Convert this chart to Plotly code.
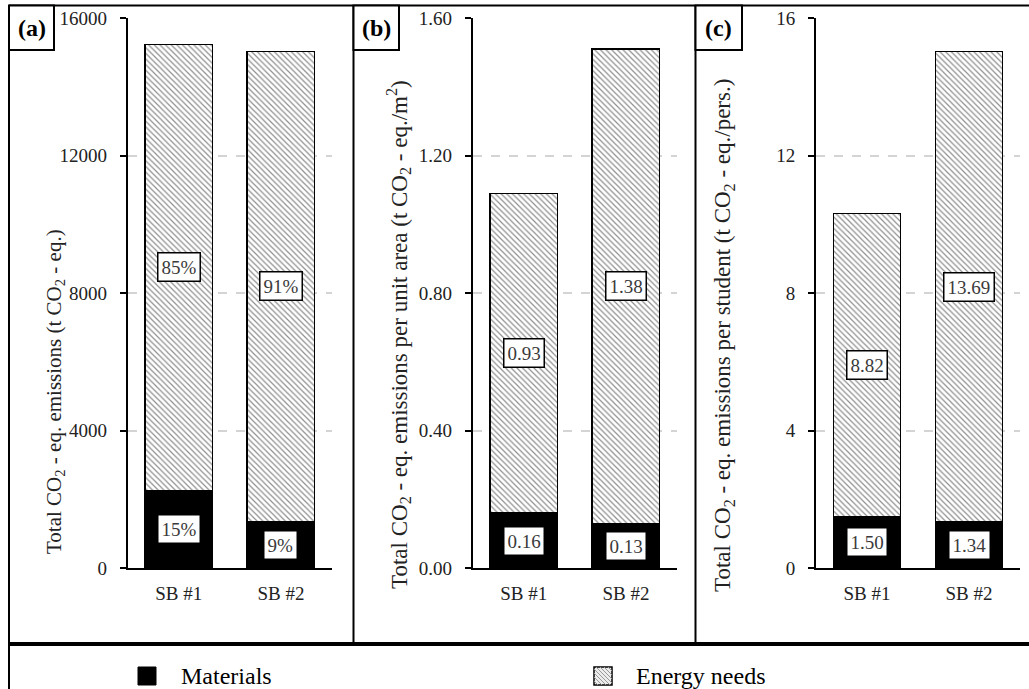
import plotly.graph_objects as go

# ---- data -------------------------------------------------------------
buildings = ["SB #1", "SB #2"]

# (a) total emissions, t CO2-eq.
materials_total = [2260, 1350]
energy_total = [12980, 13690]

# (b) emissions per unit area, t CO2-eq./m2
materials_area = [0.16, 0.13]
energy_area = [0.93, 1.38]

# (c) emissions per student, t CO2-eq./pers.
materials_student = [1.50, 1.34]
energy_student = [8.82, 13.69]

y_titles = [
    "Total CO<sub>2</sub> - eq. emissions (t CO<sub>2</sub> - eq.)",
    "Total CO<sub>2</sub> - eq. emissions per unit area (t CO<sub>2</sub> - eq./m<sup>2</sup>)",
    "Total CO<sub>2</sub> - eq. emissions per student (t CO<sub>2</sub> - eq./pers.)",
]
panel_tags = ["(a)", "(b)", "(c)"]
legend_names = ["Materials", "Energy needs"]
y_ranges = [[0, 16000], [0, 1.6], [0, 16]]
y_dticks = [4000, 0.4, 4]
y_formats = ["d", ".2f", "d"]

# ---- page geometry (pixels) -------------------------------------------
W, H = 1029, 689
FONT = "Liberation Serif"


def px(x):
    return x / W


def py(y):
    return 1 - y / H


x_domains = [(127.7, 332.0), (472.7, 677.0), (816.0, 1020.0)]
y_top, y_bottom = 18.3, 568.0

fig = go.Figure()

hatch = dict(shape="\\", size=4, solidity=0.3, fgcolor="#8f8f8f", bgcolor="white")

# percentage labels for panel (a)
tot_a = [m + e for m, e in zip(materials_total, energy_total)]
labels_a_mat = [f"{round(100 * m / t)}%" for m, t in zip(materials_total, tot_a)]
labels_a_en = [f"{round(100 * e / t)}%" for e, t in zip(energy_total, tot_a)]

panels = [
    (materials_total, energy_total, labels_a_mat, labels_a_en),
    (materials_area, energy_area,
     [f"{v:.2f}" for v in materials_area], [f"{v:.2f}" for v in energy_area]),
    (materials_student, energy_student,
     [f"{v:.2f}" for v in materials_student], [f"{v:.2f}" for v in energy_student]),
]

annotations = []
for i, (mat, en, lab_m, lab_e) in enumerate(panels):
    xa = "x" if i == 0 else f"x{i + 1}"
    ya = "y" if i == 0 else f"y{i + 1}"
    fig.add_trace(go.Bar(
        x=buildings, y=mat, name=legend_names[0], width=0.66,
        marker=dict(color="black", line=dict(color="black", width=1.5)),
        xaxis=xa, yaxis=ya, showlegend=False,
    ))
    fig.add_trace(go.Bar(
        x=buildings, y=en, name=legend_names[1], width=0.66,
        marker=dict(color="white", pattern=hatch, line=dict(color="black", width=1.5)),
        xaxis=xa, yaxis=ya, showlegend=False,
    ))
    # value boxes centred in each segment
    for b, m, e, lm, le in zip(buildings, mat, en, lab_m, lab_e):
        for yc, txt in ((m / 2, lm), (m + e / 2, le)):
            annotations.append(dict(
                x=b, y=yc, xref=xa, yref=ya, text=txt, showarrow=False,
                font=dict(family=FONT, size=19, color="#3a3a3a"),
                bgcolor="white", bordercolor="black", borderwidth=1.5, borderpad=3,
            ))

# axes
layout_axes = {}
for i in range(3):
    xk = "xaxis" if i == 0 else f"xaxis{i + 1}"
    yk = "yaxis" if i == 0 else f"yaxis{i + 1}"
    anchor_x = "y" if i == 0 else f"y{i + 1}"
    anchor_y = "x" if i == 0 else f"x{i + 1}"
    x0, x1 = x_domains[i]
    layout_axes[xk] = dict(
        domain=[px(x0), px(x1)], anchor=anchor_x, range=[-0.5, 1.5],
        showline=True, linecolor="black", linewidth=2, ticks="",
        showgrid=False, zeroline=False, ticklabelstandoff=7, automargin=False,
        tickfont=dict(family=FONT, size=19, color="#222"),
    )
    layout_axes[yk] = dict(
        domain=[py(y_bottom), py(y_top)], anchor=anchor_y,
        range=y_ranges[i], dtick=y_dticks[i], tick0=0, tickformat=y_formats[i],
        showline=True, linecolor="black", linewidth=2,
        ticks="outside", ticklen=6, tickwidth=2, tickcolor="black",
        showgrid=True, gridcolor="#d4d4d4", gridwidth=1.5, griddash="dash",
        zeroline=False, ticklabelstandoff=9, automargin=False,
        tickfont=dict(family=FONT, size=19, color="#222"),
    )

# rotated axis titles
title_pos = [(55, 392, 21), (398, 335, 23), (724, 336, 23)]
for (tx, ty, fs), t in zip(title_pos, y_titles):
    annotations.append(dict(
        x=px(tx), y=py(ty), xref="paper", yref="paper", text=t, textangle=-90,
        showarrow=False, xanchor="center", yanchor="middle",
        font=dict(family=FONT, size=fs, color="#222"),
    ))

# panel frames and tag boxes
line_k = dict(color="black", width=2)
shapes = [
    dict(type="line", xref="paper", yref="paper", x0=px(9), x1=1, y0=py(5.5), y1=py(5.5), line=line_k),
    dict(type="line", xref="paper", yref="paper", x0=px(9), x1=px(9), y0=py(5.5), y1=0, line=line_k),
    dict(type="line", xref="paper", yref="paper", x0=px(353.5), x1=px(353.5), y0=py(5.5), y1=py(644), line=line_k),
    dict(type="line", xref="paper", yref="paper", x0=px(695.5), x1=px(695.5), y0=py(5.5), y1=py(644), line=line_k),
    dict(type="line", xref="paper", yref="paper", x0=px(9), x1=1, y0=py(644), y1=py(644),
         line=dict(color="black", width=4)),
]
tag_boxes = [(9, 54), (353.5, 399), (695.5, 742)]
for (bx0, bx1), tag in zip(tag_boxes, panel_tags):
    shapes.append(dict(type="rect", xref="paper", yref="paper",
                       x0=px(bx0), x1=px(bx1), y0=py(50), y1=py(5.5),
                       line=line_k, fillcolor="white"))
    annotations.append(dict(
        x=px((bx0 + bx1) / 2), y=py(28), xref="paper", yref="paper",
        text=f"<b>{tag}</b>", showarrow=False, xanchor="center", yanchor="middle",
        font=dict(family=FONT, size=24, color="black"),
    ))

# legend row in the bottom strip: solid swatch, hatched swatch, names
sw = 18
leg_y0, leg_y1 = 667, 667 + sw
shapes.append(dict(type="rect", xref="paper", yref="paper",
                   x0=px(138), x1=px(138 + sw), y0=py(leg_y1), y1=py(leg_y0),
                   line=dict(color="black", width=1), fillcolor="black"))
ex0 = 594
shapes.append(dict(type="rect", xref="paper", yref="paper",
                   x0=px(ex0), x1=px(ex0 + sw), y0=py(leg_y1), y1=py(leg_y0),
                   line=dict(color="black", width=1.5), fillcolor="#ececec"))
hatch_path = ""
for k in range(-sw, sw, 4):
    a0, a1 = max(0, k), min(sw, k + sw)
    hatch_path += (f"M{px(ex0 + a0)},{py(leg_y0 + a0 - k)} "
                   f"L{px(ex0 + a1)},{py(leg_y0 + a1 - k)} ")
shapes.append(dict(type="path", xref="paper", yref="paper", path=hatch_path,
                   line=dict(color="#9a9a9a", width=1)))
for lx, name in ((179, legend_names[0]), (634, legend_names[1])):
    annotations.append(dict(
        x=px(lx), y=py(676), xref="paper", yref="paper", text=name,
        showarrow=False, xanchor="left", yanchor="middle",
        font=dict(family=FONT, size=24, color="black"),
    ))

fig.update_layout(
    template="none",
    width=W, height=H, margin=dict(l=0, r=0, t=0, b=0, autoexpand=False),
    paper_bgcolor="white", plot_bgcolor="white",
    barmode="stack", showlegend=False,
    shapes=shapes, annotations=annotations,
    **layout_axes,
)

fig.write_html("out.html")
